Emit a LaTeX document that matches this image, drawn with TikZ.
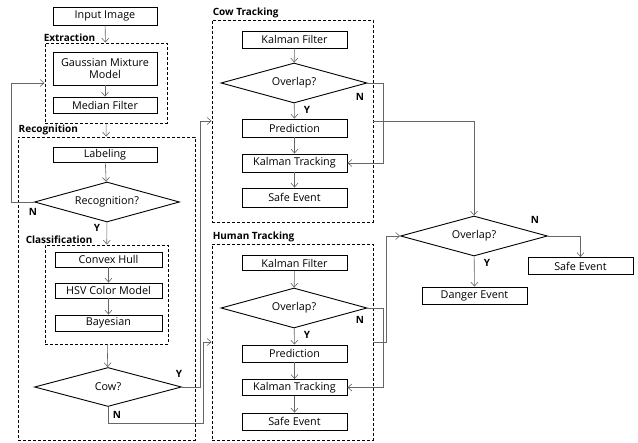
\documentclass[tikz,border=0pt]{standalone}
\usepackage{fontspec}
\setmainfont{Open Sans}
\usetikzlibrary{arrows.meta,shapes.geometric}
\tikzset{
  box/.style={draw,line width=0.9pt,minimum width=105pt,minimum height=17pt,inner sep=0pt,font=\fontsize{10.8}{12}\selectfont},
  dec/.style={diamond,draw,line width=0.9pt,minimum width=146pt,minimum height=40pt,inner sep=0pt,aspect=3.6,font=\fontsize{10.8}{12}\selectfont},
  frame/.style={draw,dash pattern=on 3pt off 2pt,line width=0.9pt,inner sep=0pt},
  title/.style={font=\bfseries\fontsize{10}{11}\selectfont,inner sep=1pt},
  yn/.style={font=\bfseries\fontsize{10}{11}\selectfont,inner sep=0pt},
  flow/.style={draw=black!60,line width=0.6pt,-{Straight Barb[length=4pt,width=7pt]}}
}
\begin{document}
\begin{tikzpicture}[x=1pt,y=-1pt]
\useasboundingbox (0,0) rectangle (638,443);
% left column
\node[box,minimum width=104pt,minimum height=18pt](in) at (105,16){Input Image};
\node[frame,minimum width=122pt,minimum height=80pt](ext) at (106,83){};
\node[title,anchor=south west] at ([xshift=-2pt]ext.north west) {Extraction};
\node[box,minimum width=104pt,minimum height=33pt,align=center](gmm) at (105,68.5){Gaussian Mixture\\Model};
\node[box,minimum width=104pt,minimum height=16pt](med) at (105,105){Median Filter};
\node[frame,minimum width=177pt,minimum height=303pt](rec) at (106.5,288.5){};
\node[title,anchor=south west] at (rec.north west) {Recognition};
\node[box,minimum width=104pt,minimum height=15pt](lab) at (105,154.5){Labeling};
\node[dec,minimum width=145pt](recq) at (107,202){Recognition?};
\node[frame,minimum width=123pt,minimum height=99pt](cls) at (106.5,294.5){};
\node[title,anchor=south west] at ([xshift=-20pt]cls.north west) {Classification};
\node[box,minimum width=107pt,minimum height=15pt](hull) at (108.5,259.5){Convex Hull};
\node[box,minimum width=107pt,minimum height=15pt](hsv) at (108.5,290.5){HSV Color Model};
\node[box,minimum width=107pt,minimum height=16pt](bay) at (108.5,323){Bayesian};
\node[dec,minimum width=147pt,minimum height=39pt](cow) at (108,387){Cow?};
\coordinate (nbend) at (203,423);
% cow tracking
\node[frame,minimum width=161pt,minimum height=202pt](cowtr) at (292.5,121){};
\node[title,anchor=south west] at (cowtr.north west) {Cow Tracking};
\node[box](kf1) at (294.5,39.5){Kalman Filter};
\node[dec](ov1) at (294,83){Overlap?};
\node[box,minimum height=18pt](pr1) at (294.5,128){Prediction};
\node[box,minimum height=18pt](kt1) at (294.5,163){Kalman Tracking};
\node[box,minimum height=19pt](se1) at (294.5,197.5){Safe Event};
% human tracking
\node[frame,minimum width=161pt,minimum height=196pt](humtr) at (292.5,342){};
\node[title,anchor=south west] at (humtr.north west) {Human Tracking};
\node[box,minimum height=15pt](kf2) at (294.5,263){Kalman Filter};
\node[dec](ov2) at (294,308){Overlap?};
\node[box](pr2) at (294.5,353.5){Prediction};
\node[box,minimum height=16pt](kt2) at (294.5,387.5){Kalman Tracking};
\node[box](se2) at (294.5,421.5){Safe Event};
% decision
\node[dec,minimum width=147pt](ov3) at (474,236){Overlap?};
\node[box](safe3) at (580.5,266){Safe Event};
\node[box](danger) at (474.5,295.5){Danger Event};
% arrows
\draw[flow](in)--(ext);
\draw[flow](gmm)--(med);
\draw[flow](ext)--(rec);
\draw[flow](lab)--(recq);
\draw[flow](recq.west)--++(-23,0)|-(ext.west);
\draw[flow](recq)--(cls);
\draw[flow](hull)--(hsv);
\draw[flow](hsv)--(bay);
\draw[flow](cls)--(cow);
\draw[flow](cow.east)--++(18,0)|-(cowtr.west);
\draw[flow](cow.south)--(cow.south|-nbend)--(nbend)|-(humtr.west);
\draw[flow](kf1)--(ov1);
\draw[flow](ov1)--(pr1);
\draw[flow](pr1)--(kt1);
\draw[flow](kt1)--(se1);
\draw[flow](ov1.east)--++(16,0)|-(kt1.east);
\draw[flow](kf2)--(ov2);
\draw[flow](ov2)--(pr2);
\draw[flow](pr2)--(kt2);
\draw[flow](kt2)--(se2);
\draw[flow](ov2.east)--++(16,0)|-(kt2.east);
\draw[flow](cowtr.east)-|(ov3.north);
\draw[flow](humtr.east)--++(13,0)|-(ov3.west);
\draw[flow](ov3.east)-|(safe3.north);
\draw[flow](ov3)--(danger);
% Y/N
\node[yn] at (33,212){N};
\node[yn] at (97,228){Y};
\node[yn] at (179,374){Y};
\node[yn] at (117,415){N};
\node[yn] at (360,97){N};
\node[yn] at (307,110){Y};
\node[yn] at (360,320){N};
\node[yn] at (307,335){Y};
\node[yn] at (535,220){N};
\node[yn] at (487,263){Y};
\end{tikzpicture}
\end{document}
